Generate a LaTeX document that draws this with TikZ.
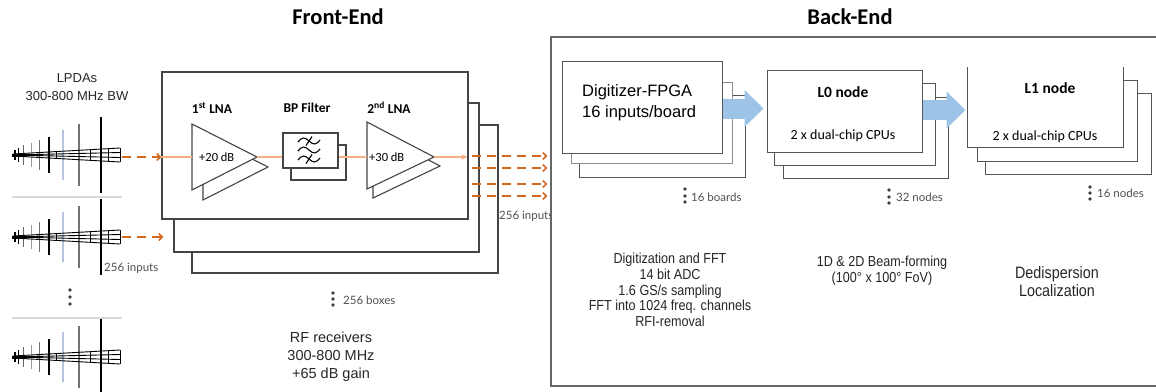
\documentclass[tikz,border=0pt]{standalone}
\usepackage{fontspec}
\setmainfont{Liberation Sans}
\newfontfamily\carlito{Carlito}
\newfontfamily\lato{Lato}
\newfontfamily\narrowsans[FakeStretch=0.87]{Liberation Sans}
\usetikzlibrary{arrows.meta,calc,fit}

\definecolor{edge}{HTML}{555555}
\definecolor{feedge}{HTML}{444444}
\definecolor{sigorange}{HTML}{F4B183}
\definecolor{dashorange}{HTML}{D2691E}
\definecolor{flowblue}{HTML}{9DC3E6}
\definecolor{elemblue}{HTML}{B8C3DE}
\definecolor{tagtext}{HTML}{505050}

% one log-periodic dipole array, boom centred on the given y
\newcommand\lpdaantenna[1]{%
  \begin{scope}[shift={(0,#1)}]
    \foreach \ex/\eh/\ec/\ew in {15/5/black/1.2, 18/7/black/1, 23/10/black!60/1,
        31/12/black!40/1, 39/15/black!55/1, 49/18/black/1.6, 63/25/elemblue/1.3,
        79/31/black!55/1.3, 101/38/black/1.8}
      \draw[draw=\ec, line width=\ew pt] (\ex,-\eh) -- (\ex,\eh);
    \draw[line width=0.9pt] (13,-1) -- (120,-7) (13,1) -- (120,7)
                            (13,0) -- (120,-2.5) (13,0) -- (120,2.5);
    \foreach \bx in {56,90,100,108,120}
      \draw[line width=0.9pt] (\bx,{-1-6*(\bx-13)/107}) -- (\bx,{1+6*(\bx-13)/107});
    \draw[line width=3pt] (12,0) -- (27,0);
  \end{scope}}

% band-pass symbol: a tilde, optionally struck through
\newcommand\bpwave[3]{%
  \draw[line width=1.1pt, shift={(#1,#2)}] (-11,1) sin (-5.5,-3) cos (0,0) sin (5.5,3) cos (11,-1);
  \ifnum#3=1 \draw[line width=1.1pt, shift={(#1,#2)}] (-3,4.5) -- (3,-4.5);\fi}

\begin{document}
\begin{tikzpicture}[x=1pt, y=-1pt,
  frame/.style={draw=edge, line width=1pt, fill=white, inner sep=0pt},
  feframe/.style={draw=feedge, line width=1.1pt, fill=white, inner sep=0pt},
  title/.style={font=\carlito\bfseries\fontsize{22.5}{26}\selectfont},
  stage/.style={font=\carlito\bfseries\fontsize{13.5}{16}\selectfont},
  gain/.style={font=\carlito\fontsize{12.5}{15}\selectfont, anchor=west, inner sep=0pt},
  nodetitle/.style={font=\carlito\bfseries\fontsize{15.5}{18}\selectfont},
  cpu/.style={font=\carlito\fontsize{14}{16}\selectfont},
  tag/.style={font=\lato\fontsize{11.5}{13}\selectfont, text=tagtext, anchor=west, inner sep=0pt},
  desc/.style={font=\narrowsans\fontsize{14.5}{15.8}\selectfont, align=center, text=black!85},
  plain/.style={font=\fontsize{13}{18}\selectfont, align=center, text=black!85},
  sigdash/.style={draw=dashorange, line width=2.4pt, dash pattern=on 9pt off 6pt,
    -{Straight Barb[length=3.5pt,width=7pt,line width=1.6pt]}},
  sigline/.style={draw=sigorange, line width=1.3pt},
  flow/.style={draw=flowblue, line width=20pt,
    -{Triangle[width=36pt,length=19pt]}},
  dotmark/.style={fill=black!75, draw=none}]
\useasboundingbox (0,0) rectangle (1156,391);

% ---------------- titles ----------------
\node[title] (fetitle) at (338,17) {Front-End};
\node[title] (betitle) at (850,17) {Back-End};

% ---------------- antennas ----------------
\node[plain] (lpda) at (77,87) {LPDAs\\300-800 MHz BW};
\lpdaantenna{155}
\lpdaantenna{237}
\lpdaantenna{357}
\draw[black!15, line width=1.5pt] (12,197) -- (122,197) (12,318) -- (122,318);
\foreach \dy in {290,297,304} \fill[dotmark] (70,\dy) circle (1.8);
\node[tag] (ininputs) at (104,268) {256 inputs};
\coordinate (ant1) at (122,157);
\coordinate (ant2) at (122,237);

% ---------------- front-end receiver stack ----------------
\node[feframe, fit={(192,125) (498,273)}] (feback2) {};
\node[feframe, fit={(174,103) (479,252)}] (feback1) {};
\node[feframe, fit={(162,72) (468,219)}] (fe) {};

\node[stage] (lna1lbl) at (212,108) {1\textsuperscript{st} LNA};
\node[stage] (bplbl) at (307,108) {BP Filter};
\node[stage] (lna2lbl) at (389,108) {2\textsuperscript{nd} LNA};

% first LNA
\draw[feframe] (203,134) -- (268,167) -- (203,200) -- cycle;
\draw[feframe] (192,124) -- (257,157) -- (192,190) -- cycle;
\coordinate (lna1in) at (192,157);
\coordinate (lna1out) at (257,157);
\node[gain] (g1) at (199,157) {+20 dB};

% band-pass filter
\node[feframe, fit={(291,145) (346,180)}] (bpback) {};
\node[feframe, fit={(283,133) (338,168)}] (bp) {};
\bpwave{309}{141}{1}
\bpwave{309}{150}{0}
\bpwave{309}{159}{1}

% second LNA
\draw[feframe] (373,131) -- (440,166) -- (373,198) -- cycle;
\draw[feframe] (367,122) -- (434,157) -- (367,189) -- cycle;
\coordinate (lna2in) at (367,157);
\coordinate (lna2out) at (434,157);
\node[gain] (g2) at (369,157) {+30 dB};

% signal chain
\draw[sigdash] (ant1) -- (ant1 -| fe.west);
\draw[sigdash] (ant2) -- ([xshift=2pt]ant2 -| fe.west);
\draw[sigline] (ant1 -| fe.west) -- (lna1in);
\draw[sigline] (lna1out) -- (bp.west |- lna1out);
\draw[sigline] (bp.east |- lna2in) -- (lna2in);
\draw[sigline, -{Triangle[length=6pt,width=5pt]}] (lna2out) -- ([xshift=-1pt]lna2out -| fe.east);

\foreach \n/\oy in {1/156,2/168,3/184,4/196}
  \coordinate (out\n) at (472,\oy);

\node[tag] (feinputs) at (499,216) {256 inputs};
\foreach \dy in {293,299,305} \fill[dotmark] (333,\dy) circle (1.8);
\node[tag] (boxes) at (343,300) {256 boxes};
\node[font=\fontsize{14.5}{18}\selectfont, align=center, text=black!85] (rf) at (331,357)
  {RF receivers\\300-800 MHz\\+65 dB gain};

% ---------------- back-end ----------------
\node[draw=black!60, line width=1.2pt, fill=white, inner sep=0pt, fit={(551,37) (1180,386)}] (be) {};
\foreach \n in {1,...,4}
  \draw[sigdash] (out\n) -- ([xshift=-3pt]out\n -| be.west);

% digitizer boards
\node[frame, fit={(579,95) (745,177)}] (digback2) {};
\node[frame, draw=black!45, fit={(571,82) (732,163)}] (digback1) {};
\node[frame, fit={(562,61) (722,153)}] (dig) {};
\node[font=\fontsize{16.5}{21}\selectfont, align=left, anchor=west, inner sep=0pt] (digtxt) at (582,102.5)
  {Digitizer-FPGA\\16 inputs/board};
\foreach \dy in {189,196,202} \fill[dotmark] (685,\dy) circle (1.8);
\node[tag] (boards) at (691,197) {16 boards};

% L0 nodes
\node[frame, fit={(783,97) (948,178)}] (l0back2) {};
\node[frame, fit={(774,83) (935,165)}] (l0back1) {};
\node[frame, fit={(767,70) (922,152)}] (l0) {};
\node[nodetitle] (l0lbl) at (843,92) {L0 node};
\node[cpu] (l0cpu) at (843,136) {2 x dual-chip CPUs};
\foreach \dy in {190,197,203} \fill[dotmark] (889,\dy) circle (1.8);
\node[tag] (l0count) at (896,197) {32 nodes};

% L1 nodes
\node[frame, fit={(985,93) (1151,174)}] (l1back2) {};
\node[frame, fit={(977,80) (1137,161)}] (l1back1) {};
\node[frame, draw=none, fit={(968,67) (1123,147)}] (l1) {};
\draw[draw=edge, line width=1pt] (l1.north west) -- (l1.south west) -- (l1.south east) -- (l1.north east);
\node[nodetitle] (l1lbl) at (1050,88) {L1 node};
\node[cpu] (l1cpu) at (1045,137) {2 x dual-chip CPUs};
\foreach \dy in {187,193,199} \fill[dotmark] (1090,\dy) circle (1.8);
\node[tag] (l1count) at (1097,193) {16 nodes};

% data flow between stages
\draw[flow] ([yshift=-1.5pt]dig.east) -- ([yshift=-1.5pt,xshift=-3pt]dig.east -| l0.west);
\draw[flow] ([yshift=1pt]l0.east) -- ([yshift=1pt,xshift=-2pt]l0.east -| l1.west);

% stage descriptions
\node[desc] (digdesc) at (670,290)
  {Digitization and FFT\\14 bit ADC\\1.6 GS/s sampling\\FFT into 1024 freq. channels\\RFI-removal};
\node[desc] (l0desc) at (882,271) {1D \& 2D Beam-forming\\(100° x 100° FoV)};
\node[desc, font=\narrowsans\fontsize{16.5}{18}\selectfont] (l1desc) at (1057,282)
  {Dedispersion\\Localization};
\end{tikzpicture}
\end{document}
